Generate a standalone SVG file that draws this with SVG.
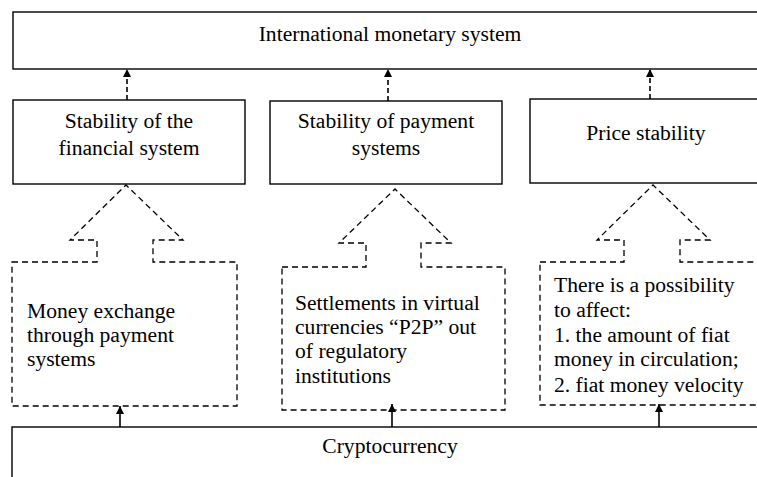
<svg xmlns="http://www.w3.org/2000/svg" width="757" height="477" viewBox="0 0 757 477">
<style>
  .box { fill: #ffffff; stroke: #000000; stroke-width: 1.4; }
  .dbox { fill: none; stroke: #000000; stroke-width: 1.3; stroke-dasharray: 6 4; }
  .t { font-family: "Liberation Serif", "Times New Roman", serif; font-size: 21.6px; fill: #000000; }
  .c { text-anchor: middle; }
  .dl { stroke: #000000; stroke-width: 1.6; stroke-dasharray: 5 3; fill: none; }
  .sl { stroke: #000000; stroke-width: 1.6; fill: none; }
</style>
<defs>
  <marker id="ah" markerUnits="userSpaceOnUse" markerWidth="9" markerHeight="9" refX="8" refY="4" orient="auto">
    <path d="M0,0 L8,4 L0,8 z" fill="#000000"/>
  </marker>
</defs>
<rect width="757" height="477" fill="#ffffff"/>

<g id="node-international">
  <rect class="box" x="13" y="12" width="760" height="57"/>
  <text class="t c" x="390" y="41">International monetary system</text>
</g>
<g id="node-financial">
  <rect class="box" x="13" y="100" width="232" height="84"/>
  <text class="t c" x="129" y="128">Stability of the</text>
  <text class="t c" x="129" y="155">financial system</text>
</g>
<g id="node-payment">
  <rect class="box" x="270" y="101" width="232" height="83"/>
  <text class="t c" x="386" y="128">Stability of payment</text>
  <text class="t c" x="386" y="155">systems</text>
</g>
<g id="node-price">
  <rect class="box" x="530" y="99" width="240" height="84"/>
  <text class="t c" x="646" y="140">Price stability</text>
</g>
<g id="node-exchange">
  <path class="dbox" d="M12,262 H97 V240 H70 L126,185 L183,240 H153 V262 H237 V406 H12 Z"/>
  <text class="t" x="27" y="318">Money exchange</text>
  <text class="t" x="27" y="342">through payment</text>
  <text class="t" x="27" y="366">systems</text>
</g>
<g id="node-settlements">
  <path class="dbox" d="M282,267 H366 V243 H339 L395,189 L451,243 H421 V267 H505 V410 H282 Z"/>
  <text class="t" x="295" y="310">Settlements in virtual</text>
  <text class="t" x="295" y="334">currencies “P2P” out</text>
  <text class="t" x="295" y="358">of regulatory</text>
  <text class="t" x="295" y="383">institutions</text>
</g>
<g id="node-possibility">
  <path class="dbox" d="M540,262 H624 V240 H597 L653,185 L710,240 H680 V262 H775 V405 H540 Z"/>
  <text class="t" x="554" y="292">There is a possibility</text>
  <text class="t" x="554" y="317">to affect:</text>
  <text class="t" x="554" y="342">1. the amount of fiat</text>
  <text class="t" x="554" y="366">money in circulation;</text>
  <text class="t" x="554" y="392">2. fiat money velocity</text>
</g>
<g id="node-crypto">
  <rect class="box" x="12" y="427" width="760" height="60"/>
  <text class="t c" x="390" y="453">Cryptocurrency</text>
</g>

<g id="connectors">
  <line class="dl" x1="127" y1="100" x2="127" y2="69" marker-end="url(#ah)"/>
  <line class="dl" x1="388" y1="101" x2="388" y2="69" marker-end="url(#ah)"/>
  <line class="dl" x1="650" y1="99" x2="650" y2="69" marker-end="url(#ah)"/>
  <line class="sl" x1="120" y1="427" x2="120" y2="406" marker-end="url(#ah)"/>
  <line class="sl" x1="392" y1="427" x2="392" y2="404" marker-end="url(#ah)"/>
  <line class="sl" x1="659" y1="427" x2="659" y2="404" marker-end="url(#ah)"/>
</g>
</svg>
